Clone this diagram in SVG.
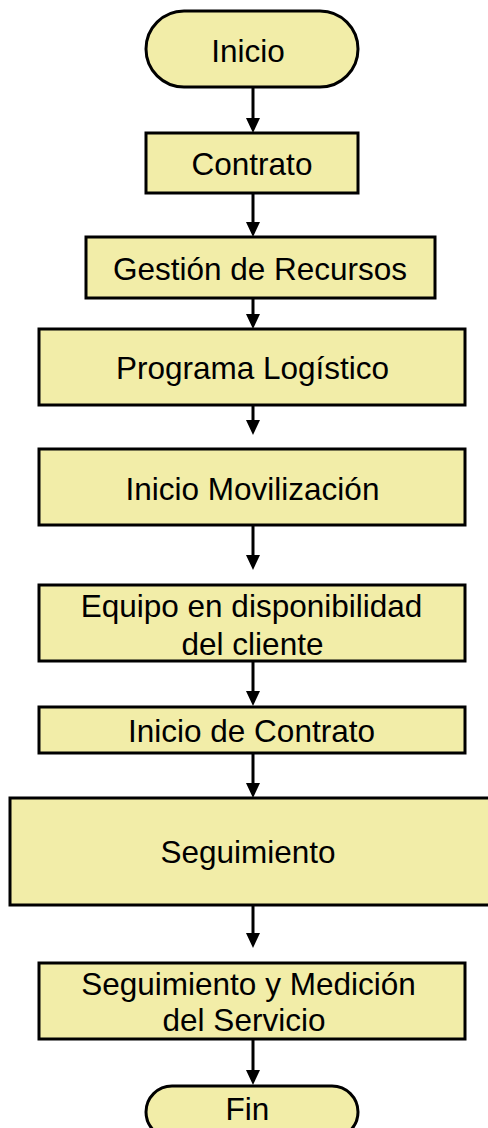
<svg xmlns="http://www.w3.org/2000/svg" width="488" height="1128" viewBox="0 0 488 1128">
<style>
.box{fill:#F2EDA8;stroke:#000;stroke-width:3}
.t{font-family:"Liberation Sans",Arial,sans-serif;font-size:31.5px;fill:#000;text-anchor:middle}
.c{stroke:#000;stroke-width:3;fill:none;marker-end:url(#ah)}
</style>
<defs>
<marker id="ah" viewBox="0 0 15 14" refX="5" refY="7" markerWidth="15" markerHeight="14" markerUnits="userSpaceOnUse" orient="auto">
<path d="M0,0 L15,7 L0,14 z" fill="#000"/>
</marker>
</defs>
<rect width="488" height="1128" fill="#fff"/>
<g id="connectors">
<line class="c" x1="253" y1="87" x2="253" y2="123"/>
<line class="c" x1="253" y1="193" x2="253" y2="227"/>
<line class="c" x1="253" y1="298" x2="253" y2="319"/>
<line class="c" x1="253" y1="405" x2="253" y2="425"/>
<line class="c" x1="253" y1="525" x2="253" y2="560"/>
<line class="c" x1="253" y1="661" x2="253" y2="696"/>
<line class="c" x1="253" y1="753" x2="253" y2="788"/>
<line class="c" x1="253" y1="905" x2="253" y2="938"/>
<line class="c" x1="253" y1="1039" x2="253" y2="1075"/>
</g>
<g id="inicio"><rect class="box" x="146" y="11" width="212" height="76" rx="38" ry="38"/><text class="t" x="248" y="62">Inicio</text></g>
<g id="contrato"><rect class="box" x="146" y="133" width="212" height="60"/><text class="t" x="252" y="175">Contrato</text></g>
<g id="gestion"><rect class="box" x="86" y="237" width="349" height="61"/><text class="t" x="260" y="280">Gestión de Recursos</text></g>
<g id="programa"><rect class="box" x="39" y="329" width="426" height="76"/><text class="t" x="252.5" y="379">Programa Logístico</text></g>
<g id="movilizacion"><rect class="box" x="39" y="449" width="426" height="76"/><text class="t" x="252.5" y="500">Inicio Movilización</text></g>
<g id="equipo"><rect class="box" x="39" y="585" width="426" height="76"/><text class="t" x="251.5" y="617">Equipo en disponibilidad</text><text class="t" x="252.5" y="655">del cliente</text></g>
<g id="iniciocontrato"><rect class="box" x="39" y="707" width="426" height="46"/><text class="t" x="251.5" y="742">Inicio de Contrato</text></g>
<g id="seguimiento"><rect class="box" x="10" y="798" width="490" height="107"/><text class="t" x="248" y="863">Seguimiento</text></g>
<g id="medicion"><rect class="box" x="39" y="963" width="426" height="76"/><text class="t" x="248.5" y="995">Seguimiento y Medición</text><text class="t" x="244" y="1031">del Servicio</text></g>
<g id="fin"><rect class="box" x="146" y="1086" width="212" height="52" rx="26" ry="26"/><text class="t" x="247.5" y="1120">Fin</text></g>
</svg>
